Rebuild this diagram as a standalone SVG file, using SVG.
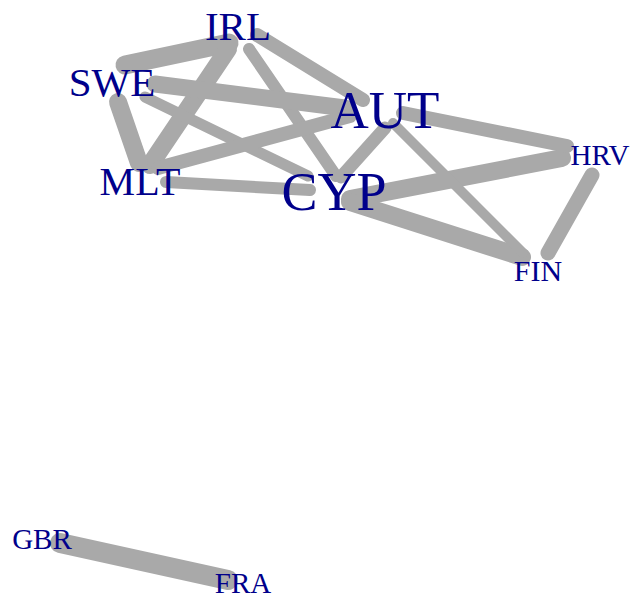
<svg xmlns="http://www.w3.org/2000/svg" width="632" height="598" viewBox="0 0 632 598">
<style>
.e{stroke:#A9A9A9;stroke-linecap:round;fill:none}
.l{font-family:"Liberation Serif","Times New Roman",serif;fill:#00008B;text-anchor:middle}
</style>
<rect width="632" height="598" fill="#FFFFFF"/>
<g id="edges">
<line class="e" x1="229" y1="43" x2="125" y2="65" stroke-width="19"/>
<line class="e" x1="228" y1="49" x2="150" y2="165" stroke-width="18"/>
<line class="e" x1="257" y1="35" x2="363" y2="100" stroke-width="14"/>
<line class="e" x1="249" y1="49" x2="336" y2="176" stroke-width="12"/>
<line class="e" x1="118" y1="102" x2="139" y2="163" stroke-width="18"/>
<line class="e" x1="155" y1="84" x2="345" y2="108" stroke-width="17"/>
<line class="e" x1="145" y1="97" x2="308" y2="176" stroke-width="11"/>
<line class="e" x1="158" y1="168" x2="350" y2="116" stroke-width="14"/>
<line class="e" x1="166" y1="182" x2="310" y2="190" stroke-width="12"/>
<line class="e" x1="385" y1="128" x2="341" y2="177" stroke-width="13"/>
<line class="e" x1="350" y1="199" x2="562" y2="158" stroke-width="18"/>
<line class="e" x1="350" y1="202" x2="522" y2="257" stroke-width="18"/>
<line class="e" x1="403" y1="113" x2="567" y2="146" stroke-width="14"/>
<line class="e" x1="393" y1="123" x2="523" y2="253" stroke-width="10"/>
<line class="e" x1="592" y1="175" x2="548" y2="253" stroke-width="15"/>
<line class="e" x1="60" y1="543" x2="228" y2="580" stroke-width="20"/>
</g>
<g id="IRL"><text class="l" x="238" y="40" font-size="41">IRL</text></g>
<g id="SWE"><text class="l" x="112" y="96" font-size="41">SWE</text></g>
<g id="AUT"><text class="l" x="385" y="128" font-size="53">AUT</text></g>
<g id="MLT"><text class="l" x="140" y="195" font-size="40">MLT</text></g>
<g id="CYP"><text class="l" x="334" y="210" font-size="54">CYP</text></g>
<g id="HRV"><text class="l" x="600" y="165" font-size="29">HRV</text></g>
<g id="FIN"><text class="l" x="538" y="281" font-size="30">FIN</text></g>
<g id="GBR"><text class="l" x="42" y="549" font-size="29">GBR</text></g>
<g id="FRA"><text class="l" x="243" y="593" font-size="29">FRA</text></g>
</svg>
